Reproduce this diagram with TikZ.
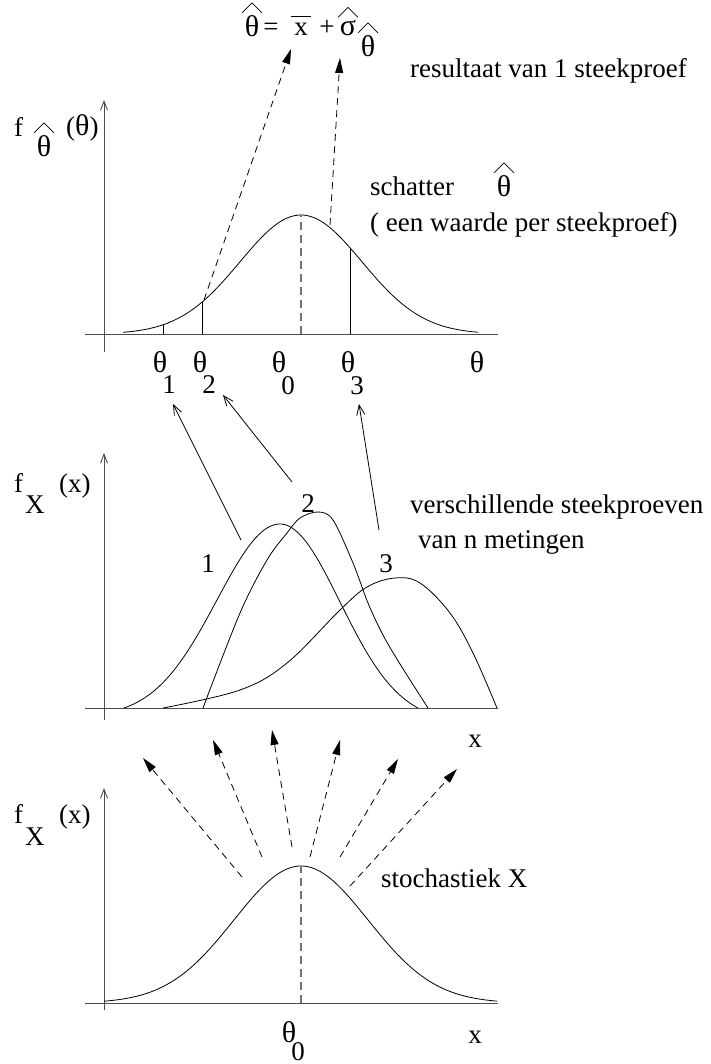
\documentclass[tikz,border=0pt]{standalone}
\usepackage{fontspec}
\setmainfont{Liberation Serif}
\usetikzlibrary{arrows.meta}
\newcommand\tht{{\fontsize{30}{34}\selectfont θ}}
\begin{document}
\begin{tikzpicture}[x=1pt,y=-1pt,
  txt/.style={font=\fontsize{27}{32}\selectfont, inner sep=0pt, anchor=base west},
  lbl/.style={font=\fontsize{27}{32}\selectfont, inner sep=0pt, anchor=base},
  axis/.style={draw=black!70, line width=0.9pt},
  axarrow/.style={axis, -{Straight Barb[length=9pt,width=7pt]}},
  curve/.style={draw=black, line width=0.8pt},
  guide/.style={draw=black!55, line width=1.1pt, dash pattern=on 8pt off 5pt},
  dasharrow/.style={draw=black, line width=0.8pt, dash pattern=on 7pt off 5pt, -{Triangle[length=15pt,width=8pt]}},
  solarrow/.style={draw=black, line width=0.8pt, -{Straight Barb[length=10pt,width=8pt]}},
  tickline/.style={draw=black, line width=0.8pt},
  hatline/.style={draw=black, line width=0.7pt}
]
\useasboundingbox (0,0) rectangle (710,1064);

% ---------- top graph ----------
\coordinate (tyB) at (104,352); \coordinate (tyT) at (104,100);
\coordinate (txL) at (85,334);  \coordinate (txR) at (498,334);
\draw[axarrow] (tyB) -- (tyT);
\draw[axis] (txL) -- (txR);
\draw[curve] plot[domain=123:478, samples=90, smooth] (\x, {334-119*exp(-((\x-301)/61)^2/2)});
\draw[tickline] (163,334) -- (163,324.8);
\draw[tickline] (202,334) -- (202,302.1);
\draw[tickline] (350,334) -- (350,247.8);
\draw[guide] (301,334) -- (301,215);

\node[txt] (tf) at (14,137) {f};
\node[lbl] (tfh) at (44,157) {\tht};
\node[txt] (tfa) at (66,136) {(\tht)};

\node[lbl] (th1) at (160,372) {\tht}; \node[lbl] (n1) at (169,393) {1};
\node[lbl] (th2) at (200,372) {\tht}; \node[lbl] (n2) at (209,393) {2};
\node[lbl] (th0) at (279,372) {\tht}; \node[lbl] (n0) at (288,394) {0};
\node[lbl] (th3) at (348,372) {\tht}; \node[lbl] (n3) at (357,394) {3};
\node[lbl] (thx) at (477,372) {\tht};

% formula
\node[lbl] (fth) at (252,37) {\tht};
\node[lbl] (feq) at (271,36) {=};
\node[lbl] (fx) at (301,36) {x};
\node[lbl] (fpl) at (327,36) {+};
\node[lbl] (fsg) at (348,36) {{\fontsize{30}{34}\selectfont σ}};
\node[lbl] (fsub) at (368,57) {\tht};

\node[txt] (res) at (410,78) {resultaat van 1 steekproef};
\node[txt] (sch) at (370,196) {schatter};
\node[lbl] (schth) at (504,197) {\tht};
\node[txt] (een) at (370,232) {( een waarde per steekproef)};

% hats and bar
\foreach \n in {tfh,fth,fsg,fsub,schth}
  \draw[hatline] ([shift={(-10,-3)}]\n.north) -- ([shift={(0,-13)}]\n.north) -- ([shift={(10,-3)}]\n.north);
\draw[hatline] ([shift={(-10,-7)}]fx.north) -- ([shift={(10,-7)}]fx.north);

\coordinate (d1s) at (204,300); \coordinate (d1e) at (291,49);
\coordinate (d2s) at (330,225); \coordinate (d2e) at (340,58);
\draw[dasharrow] (d1s) -- (d1e);
\draw[dasharrow] (d2s) -- (d2e);

% ---------- middle graph ----------
\coordinate (myB) at (104,720); \coordinate (myT) at (104,453);
\coordinate (mxL) at (85,708);  \coordinate (mxR) at (498,708);
\draw[axarrow] (myB) -- (myT);
\draw[axis] (mxL) -- (mxR);
\draw[curve] plot[domain=124:280, samples=60, smooth] (\x, {708-184*(exp(-((\x-280)/63)^2/2)-0.0466)/0.9534})
  -- plot[domain=280:418, samples=60, smooth] (\x, {708-184*(exp(-((\x-280)/60)^2/2)-0.071)/0.929});
\draw[curve] plot[smooth, tension=0.55] coordinates {(203,708) (240,613) (267,560) (287,533) (300,518) (318,512) (333,520) (353,563) (368,603) (383,635) (400,664) (428,708)};
\draw[curve] plot[smooth, tension=0.6] coordinates {(163,708) (240,690) (287,663) (340,610) (367,587) (395,578) (420,583) (450,613) (473,653) (497,708)};

\node[txt] (mf) at (14,492) {f};
\node[txt] (mX) at (25,513) {X};
\node[txt] (mfa) at (59,492) {(x)};
\node[lbl] (mxl) at (475,747) {x};

\node[lbl] (c1) at (208,572) {1};
\node[lbl] (c2) at (308,512) {2};
\node[lbl] (c3) at (386,572) {3};

\node[txt] (ver) at (410,513) {verschillende steekproeven};
\node[txt] (van) at (418,548) {van n metingen};

\coordinate (s1s) at (241,540); \coordinate (s1e) at (173,404);
\coordinate (s2s) at (292,482); \coordinate (s2e) at (223,395);
\coordinate (s3s) at (379,530); \coordinate (s3e) at (359,404);
\draw[solarrow] (s1s) -- (s1e);
\draw[solarrow] (s2s) -- (s2e);
\draw[solarrow] (s3s) -- (s3e);

% ---------- bottom graph ----------
\coordinate (byB) at (104,1010); \coordinate (byT) at (104,788);
\coordinate (bxL) at (85,1003);  \coordinate (bxR) at (498,1003);
\draw[axarrow] (byB) -- (byT);
\draw[axis] (bxL) -- (bxR);
\draw[curve] plot[domain=104:497, samples=90, smooth] (\x, {1003-137*exp(-((\x-301)/67)^2/2)});
\draw[guide] (301,1003) -- (301,866);

\node[txt] (bf) at (14,823) {f};
\node[txt] (bX) at (25,845) {X};
\node[txt] (bfa) at (59,823) {(x)};
\node[lbl] (bth) at (289,1042) {\tht}; \node[lbl] (bn0) at (298,1060) {0};
\node[lbl] (bxl) at (475,1043) {x};
\node[txt] (sto) at (381,887) {stochastiek X};

\coordinate (b1s) at (242,877); \coordinate (b1e) at (143,758);
\coordinate (b2s) at (262,857); \coordinate (b2e) at (213,740);
\coordinate (b3s) at (292,847); \coordinate (b3e) at (272,730);
\coordinate (b4s) at (310,857); \coordinate (b4e) at (340,740);
\coordinate (b5s) at (340,857); \coordinate (b5e) at (398,759);
\coordinate (b6s) at (350,886); \coordinate (b6e) at (457,769);
\foreach \i in {1,...,6} \draw[dasharrow] (b\i s) -- (b\i e);
\end{tikzpicture}
\end{document}
